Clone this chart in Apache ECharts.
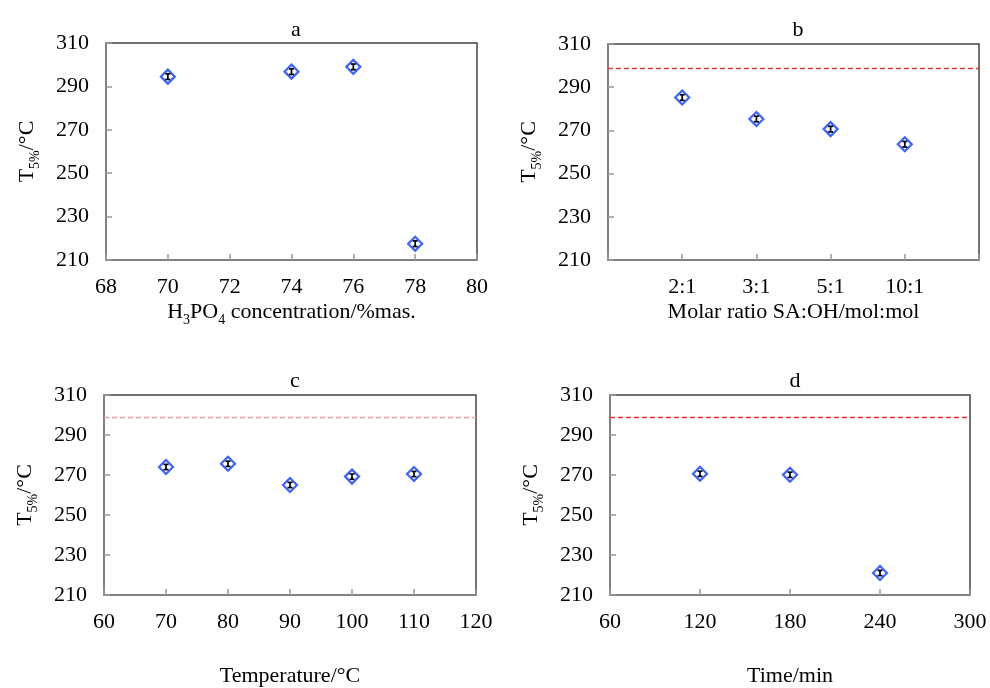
<!DOCTYPE html>
<html>
<head>
<meta charset="utf-8">
<script src="https://cdn.jsdelivr.net/npm/echarts@6/dist/echarts.min.js"></script>
<style>html,body{margin:0;padding:0;background:#fff}#c{width:990px;height:688px}</style>
</head>
<body>
<div id="c"></div>
<script>
// ---- data ----
const yTicks = [210, 230, 250, 270, 290, 310];
const refLine = 299;
const aX = [70, 74, 76, 78];
const aY = [294.5, 296.8, 299, 217.5];
const aErr = [1.3, 1.3, 1.3, 1.3];
const bCats = ['2:1', '3:1', '5:1', '10:1'];
const bY = [285.2, 275.3, 270.6, 263.6];
const bErr = [1.3, 1.3, 1.3, 1.3];
const cX = [70, 80, 90, 100, 110];
const cY = [274, 275.6, 265, 269.2, 270.5];
const cErr = [1.3, 1.3, 1.3, 1.3, 1.3];
const dX = [120, 180, 240];
const dY = [270.6, 270.1, 221];
const dErr = [1.3, 1.3, 1.3];
const titles = ['a', 'b', 'c', 'd'];

const FONT = 'Liberation Serif';
const chart = echarts.init(document.getElementById('c'));

const grids = [
  {left: 106, top: 43, width: 371, height: 217},
  {left: 608, top: 44, width: 371, height: 216},
  {left: 104, top: 395, width: 372, height: 214},
  {left: 610, top: 395, width: 360, height: 214}
].map(g => Object.assign({show: true, borderColor: '#444', borderWidth: 1.5, backgroundColor: '#fff'}, g));

const rich = {
  n: {fontFamily: FONT, fontSize: 22, color: '#000'},
  s: {fontFamily: FONT, fontSize: 14, color: '#000', verticalAlign: 'bottom', padding: [0, 0, -4, 0]}
};
const axisLine = {show: true, lineStyle: {color: '#888', width: 1.5}};
const axisTick = {show: true, inside: true, length: 6, lineStyle: {color: '#999', width: 1.5}};
const axisLabel = {fontFamily: FONT, fontSize: 22, color: '#000', margin: 17};

function xAx(i, min, max, interval, name, gap, fmt) {
  return {gridIndex: i, type: 'value', min, max, interval, name, nameLocation: 'middle', nameGap: gap,
    nameTextStyle: {rich, fontFamily: FONT, fontSize: 22, color: '#000'},
    axisLine, axisTick, splitLine: {show: false},
    axisLabel: Object.assign({}, axisLabel, {margin: 16, formatter: fmt})};
}
function yAx(i) {
  return {gridIndex: i, type: 'value', min: yTicks[0], max: yTicks[yTicks.length - 1], interval: yTicks[1] - yTicks[0],
    name: '{n|T}{s|5%}{n|/°C}', nameLocation: 'middle', nameRotate: 90, nameGap: 68,
    nameTextStyle: {rich}, axisLine, axisTick, splitLine: {show: false}, axisLabel};
}

const xAxes = [
  xAx(0, 68, 80, 2, '{n|H}{s|3}{n|PO}{s|4}{n| concentration/%mas.}', 41),
  xAx(1, 0, bCats.length + 1, 1, 'Molar ratio SA:OH/mol:mol', 41, v => (v >= 1 && v <= bCats.length) ? bCats[v - 1] : ''),
  xAx(2, 60, 120, 10, 'Temperature/°C', 70),
  xAx(3, 60, 300, 60, 'Time/min', 70)
];
const yAxes = [0, 1, 2, 3].map(yAx);

function pts(xs, ys) { return xs.map((x, i) => [x, ys[i]]); }
function errs(xs, ys, es) { return xs.map((x, i) => [x, ys[i], es[i]]); }

const panels = [
  {xs: aX, ys: aY, es: aErr, ref: null},
  {xs: bCats.map((c, i) => i + 1), ys: bY, es: bErr, ref: '#e53935'},
  {xs: cX, ys: cY, es: cErr, ref: '#f19a9a'},
  {xs: dX, ys: dY, es: dErr, ref: '#ff2a2a'}
];

function renderErr(params, api) {
  const x = api.value(0), y = api.value(1), e = api.value(2);
  const t = api.coord([x, y + e]), b = api.coord([x, y - e]);
  const w = 2.5;
  const st = {stroke: '#000', lineWidth: 1.7};
  return {type: 'group', children: [
    {type: 'line', shape: {x1: t[0], y1: t[1], x2: b[0], y2: b[1]}, style: st},
    {type: 'line', shape: {x1: t[0] - w, y1: t[1], x2: t[0] + w, y2: t[1]}, style: st},
    {type: 'line', shape: {x1: b[0] - w, y1: b[1], x2: b[0] + w, y2: b[1]}, style: st}
  ]};
}

const series = [];
panels.forEach((p, i) => {
  const s = {
    type: 'scatter', xAxisIndex: i, yAxisIndex: i, data: pts(p.xs, p.ys),
    symbol: 'diamond', symbolSize: 14, z: 3,
    itemStyle: {color: 'rgba(255,255,255,0)', borderColor: '#0a3cff', borderWidth: 2.2}
  };
  if (p.ref) {
    s.markLine = {silent: true, symbol: 'none', label: {show: false},
      lineStyle: {color: p.ref, type: [5, 3], width: 1.3, opacity: 1},
      emphasis: {disabled: true},
      data: [{yAxis: refLine}]};
  }
  series.push(s);
  series.push({type: 'custom', xAxisIndex: i, yAxisIndex: i, data: errs(p.xs, p.ys, p.es),
    renderItem: renderErr, z: 4});
});

const titleCenters = [[291, 25], [793, 25], [290, 376], [790, 376]];
const title = titles.map((t, i) => ({text: t, left: titleCenters[i][0], top: titleCenters[i][1],
  textAlign: 'center', textVerticalAlign: 'middle',
  textStyle: {fontFamily: FONT, fontSize: 22, fontWeight: 'normal', color: '#000'}}));

chart.setOption({animation: false, title, grid: grids, xAxis: xAxes, yAxis: yAxes, series});
</script>
</body>
</html>
